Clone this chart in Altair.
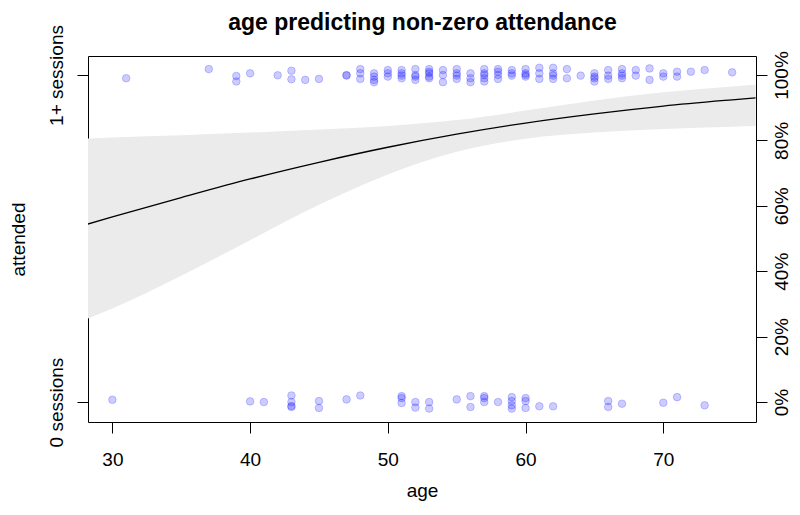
import altair as alt
import pandas as pd

TITLE = "age predicting non-zero attendance"
X_TITLE = "age"
Y_TITLE = "attended"

# fitted curve and confidence band
curve_age = [28.2, 30, 35, 40, 45, 50, 55, 60, 65, 70, 75, 76.7]
curve_fit = [0.544, 0.566, 0.625, 0.682, 0.733, 0.779, 0.819, 0.853, 0.881, 0.905, 0.924, 0.930]
curve_lo = [0.255, 0.286, 0.386, 0.495, 0.603, 0.696, 0.765, 0.805, 0.824, 0.835, 0.842, 0.844]
curve_hi = [0.806, 0.809, 0.816, 0.824, 0.833, 0.844, 0.862, 0.891, 0.922, 0.947, 0.965, 0.970]

# jittered observations, attended = 1+ sessions
top_age = [31, 37, 39, 39, 40, 42, 43, 43, 44, 45, 47, 47,
           48, 48, 48, 49, 49, 49, 49, 50, 50, 50, 51, 51, 51, 51,
           52, 52, 52, 52, 53, 53, 53, 53, 53, 54, 54, 54,
           55, 55, 55, 55, 56, 56, 56, 57, 57, 57, 57, 57,
           58, 58, 58, 58, 59, 59, 59, 60, 60, 60, 60,
           61, 61, 61, 62, 62, 62, 62, 63, 63, 64,
           65, 65, 65, 65, 66, 66, 66, 67, 67, 67, 67,
           68, 68, 69, 69, 70, 70, 71, 71, 72, 73, 75]
top_val = [0.990, 1.018, 0.997, 0.980, 1.005, 0.999, 1.013, 0.987, 0.985, 0.988, 1.000, 0.998,
           1.018, 1.005, 0.988, 1.005, 0.995, 0.985, 0.978, 1.015, 1.005, 0.995, 1.015, 1.005, 0.990, 0.998,
           1.018, 1.000, 0.985, 0.995, 1.018, 1.005, 0.990, 1.010, 0.995, 1.015, 1.000, 0.978,
           1.018, 1.005, 0.988, 0.998, 1.005, 0.990, 0.978, 1.018, 1.005, 0.990, 0.980, 1.000,
           1.018, 1.000, 0.988, 1.010, 1.015, 0.998, 1.005, 1.018, 1.005, 0.995, 1.000,
           1.022, 1.005, 0.988, 1.022, 1.005, 0.988, 0.998, 1.018, 0.990, 0.998,
           1.005, 0.990, 0.980, 0.995, 1.015, 0.998, 0.988, 1.018, 1.005, 0.990, 0.998,
           1.015, 0.998, 1.020, 0.985, 1.005, 0.995, 1.010, 0.995, 1.010, 1.015, 1.008]

# jittered observations, attended = 0 sessions
bot_age = [30, 40, 41, 43, 43, 43, 43, 45, 45, 47, 48,
           51, 51, 51, 52, 52, 53, 53, 55, 56, 56, 57, 57, 57, 58,
           59, 59, 59, 59, 60, 60, 60, 61, 62, 66, 66, 67, 70, 71, 73]
bot_val = [0.007, 0.002, 0.000, 0.020, 0.000, -0.012, -0.015, 0.003, -0.018, 0.008, 0.020,
           0.018, 0.012, -0.003, 0.000, -0.017, 0.000, -0.020, 0.008, 0.018, -0.015, 0.018, 0.012, 0.000, 0.000,
           0.015, 0.003, -0.010, -0.020, 0.012, 0.003, -0.018, -0.013, -0.013, 0.003, -0.015, -0.005, -0.002, 0.015, -0.010]

x_ticks = [30, 40, 50, 60, 70]
left_ticks = [0, 1]
left_labels = ["0 sessions", "1+ sessions"]
right_ticks = [0, 0.2, 0.4, 0.6, 0.8, 1.0]

X_DOMAIN = [28.23, 76.73]
Y_DOMAIN = [-0.061, 1.058]

FONT = "Liberation Sans"

curve_df = pd.DataFrame({"age": curve_age, "fit": curve_fit, "lo": curve_lo, "hi": curve_hi})
pts_df = pd.DataFrame({"age": top_age + bot_age, "val": top_val + bot_val})

xs = alt.Scale(domain=X_DOMAIN, nice=False, zero=False)
ys = alt.Scale(domain=Y_DOMAIN, nice=False, zero=False)

# bottom x axis with ticks and labels
xaxis = alt.Axis(values=x_ticks, orient="bottom", title=X_TITLE, tickSize=11, labelPadding=17,
                 labelBaseline="top", labelFlush=False, labelOverlap=False,
                 titleY=74, titleX=334, titleBaseline="alphabetic", titleAlign="center",
                 titleFontSize=19, titleFontWeight="normal", labelFontSize=19)

# top axis used only to carry the chart title
title_axis = alt.Axis(orient="top", title=TITLE, ticks=False, labels=False, domain=False,
                      titleY=-27, titleX=334, titleBaseline="alphabetic", titleAlign="center",
                      titleFontSize=23, titleFontWeight="bold")

left_axis = alt.Axis(values=left_ticks, orient="left", title=Y_TITLE, tickSize=11,
                     labelExpr=f"datum.value >= 0.5 ? '{left_labels[1]}' : '{left_labels[0]}'",
                     labelAngle=270, labelAlign="center", labelBaseline="alphabetic",
                     labelPadding=15, labelOverlap=False, labelFlush=False, labelFontSize=19,
                     titleAngle=270, titleX=-64, titleY=183, titleAlign="center",
                     titleBaseline="alphabetic", titleFontSize=19, titleFontWeight="normal")

right_axis = alt.Axis(values=right_ticks, orient="right", title=None, tickSize=11, format=".0%",
                      labelAngle=270, labelAlign="center", labelBaseline="alphabetic",
                      labelPadding=20, labelOverlap=False, labelFlush=False, labelFontSize=19)

band = alt.Chart(curve_df).mark_area(color="#ebebeb", interpolate="monotone", clip=True).encode(
    x=alt.X("age:Q", scale=xs, axis=xaxis),
    y=alt.Y("lo:Q", scale=ys, axis=right_axis),
    y2="hi:Q",
)

line = alt.Chart(curve_df).mark_line(color="black", strokeWidth=1.3, interpolate="monotone", clip=True).encode(
    x=alt.X("age:Q", scale=xs, axis=title_axis),
    y=alt.Y("fit:Q", scale=ys, axis=None),
)

points = alt.Chart(pts_df).mark_circle(
    size=58, fill="#0000ff", fillOpacity=0.2, stroke="#0000ff", strokeOpacity=0.2, strokeWidth=1, opacity=1
).encode(
    x=alt.X("age:Q", scale=xs, axis=None),
    y=alt.Y("val:Q", scale=ys, axis=left_axis),
)

chart = alt.layer(band, line, points).resolve_scale(y="independent").properties(
    width=668, height=366,
    padding={"left": 80, "top": 48, "right": 36, "bottom": 85},
    autosize=alt.AutoSizeParams(type="none"),
    background="white",
).configure_view(stroke="black", strokeWidth=1).configure_axis(
    labelFont=FONT, titleFont=FONT, labelColor="black", titleColor="black",
    tickColor="black", tickWidth=1, grid=False, domain=False,
)

chart.save("out.html", embed_options={"renderer": "svg", "actions": False})
